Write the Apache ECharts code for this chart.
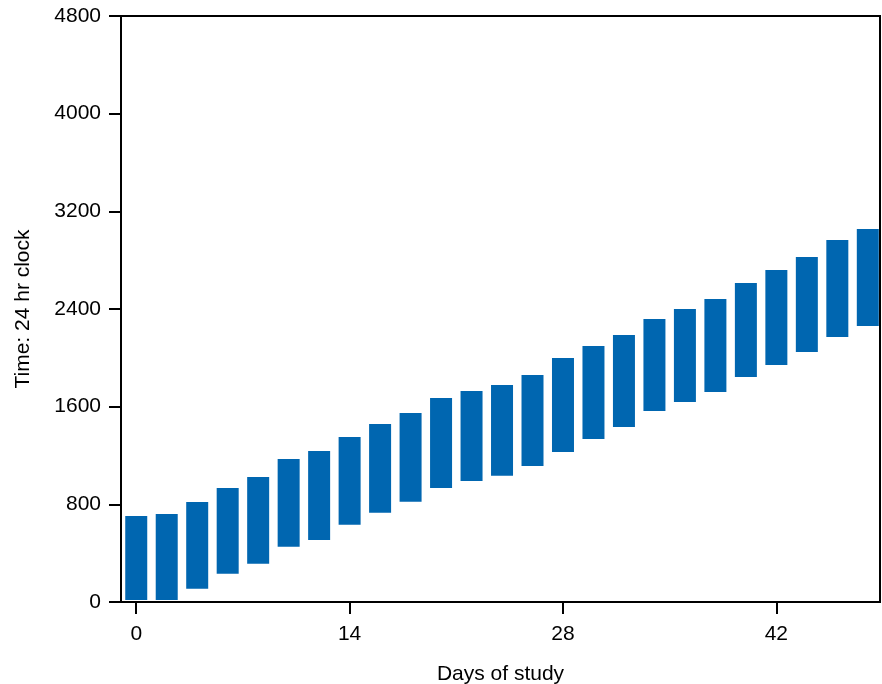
<!DOCTYPE html>
<html>
<head>
<meta charset="utf-8">
<script src="https://cdn.jsdelivr.net/npm/echarts@6/dist/echarts.min.js"></script>
<style>
html,body{margin:0;padding:0;background:#fff;}
#chart{width:882px;height:684px;}
</style>
</head>
<body>
<div id="chart"></div>
<script>
var days = [0, 2, 4, 6, 8, 10, 12, 14, 16, 18, 20, 22, 24, 26, 28, 30, 32, 34, 36, 38, 40, 42, 44, 46, 48];
var startTimes = [16, 16, 109, 232, 314, 453, 508, 633, 731, 822, 934, 991, 1035, 1114, 1229, 1335, 1433, 1565, 1638, 1720, 1843, 1941, 2048, 2171, 2261];
var endTimes = [704, 721, 819, 934, 1024, 1171, 1237, 1351, 1458, 1548, 1671, 1728, 1777, 1859, 1999, 2097, 2187, 2318, 2400, 2482, 2613, 2719, 2826, 2965, 3055];
var xTicks = [0, 14, 28, 42];

var data = days.map(function (d, i) { return [d, startTimes[i], endTimes[i]]; });

var chart = echarts.init(document.getElementById('chart'), null, {renderer: 'canvas'});
var font = 'Liberation Sans, Arial, sans-serif';
function plain(v) { return String(v); }
chart.setOption({
  animation: false,
  backgroundColor: '#ffffff',
  grid: {left: 121, right: 2, top: 16, bottom: 82, outerBoundsMode: 'none', containLabel: false, show: true, borderColor: '#000', borderWidth: 2, backgroundColor: 'transparent'},
  xAxis: {
    type: 'value', min: -1, max: 48.8,
    name: 'Days of study', nameLocation: 'middle', nameGap: 62,
    nameTextStyle: {fontFamily: font, fontSize: 21, color: '#000'},
    axisLine: {show: true, onZero: false, lineStyle: {color: '#000', width: 2}},
    axisTick: {show: true, length: 12, customValues: xTicks, lineStyle: {color: '#000', width: 2}},
    axisLabel: {customValues: xTicks, margin: 22, fontFamily: font, fontSize: 21, color: '#000', formatter: plain},
    splitLine: {show: false}
  },
  yAxis: {
    type: 'value', min: 0, max: 4800, interval: 800,
    name: 'Time: 24 hr clock', nameLocation: 'middle', nameGap: 87,
    nameTextStyle: {fontFamily: font, fontSize: 21, color: '#000'},
    axisLine: {show: true, onZero: false, lineStyle: {color: '#000', width: 2}},
    axisTick: {show: true, length: 12, lineStyle: {color: '#000', width: 2}},
    axisLabel: {margin: 20, fontFamily: font, fontSize: 21, color: '#000', formatter: plain},
    splitLine: {show: false}
  },
  series: [{
    type: 'custom',
    data: data,
    encode: {x: 0, y: [1, 2]},
    renderItem: function (params, api) {
      var lo = api.coord([api.value(0), api.value(1)]);
      var hi = api.coord([api.value(0), api.value(2)]);
      var w = 22;
      return {
        type: 'rect',
        shape: {x: lo[0] - w / 2, y: hi[1], width: w, height: lo[1] - hi[1]},
        style: {fill: '#0066b0'}
      };
    }
  }]
});
</script>
</body>
</html>
